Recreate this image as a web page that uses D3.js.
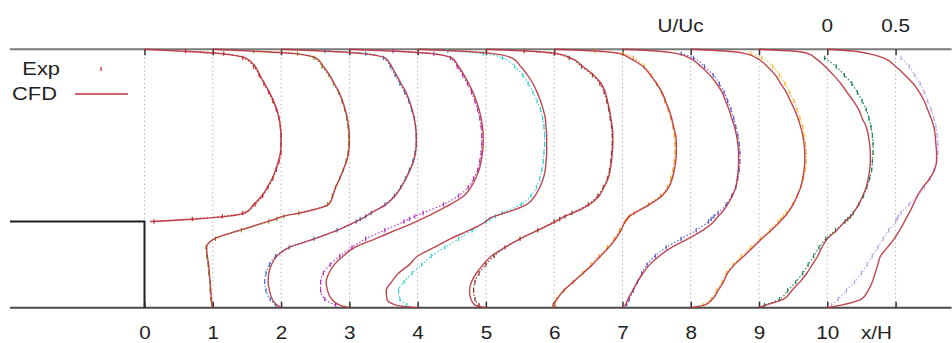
<!DOCTYPE html>
<html>
<head>
<meta charset="utf-8">
<script src="https://cdn.jsdelivr.net/npm/d3@7"></script>
<style>
  html, body { margin: 0; padding: 0; background: #fff; }
  svg { display: block; font-family: "Liberation Sans", Arial, sans-serif; }
</style>
</head>
<body>
<svg id="chart" width="952" height="343"></svg>
<script>
// wall-normal levels y/H, shared by every profile
const yLevels = [0, 0.03, 0.1, 0.2, 0.3, 0.4, 0.5, 0.6, 0.7, 0.8, 0.9,
  1.0, 1.03, 1.06, 1.1, 1.2, 1.3, 1.4, 1.5, 1.6, 1.7, 1.8, 1.9, 2.0,
  2.1, 2.2, 2.3, 2.4, 2.5, 2.6, 2.7, 2.8, 2.9, 2.95, 2.98, 3.0];

// measuring stations x/H
const stations = [0, 1, 2, 3, 4, 5, 6, 7, 8, 9, 10];

// U/Uc from the simulation, one row per station
const cfd = [
  [null, null, null, null, null, null, null, null, null, null, null, 0.04, 0.38, 0.6, 0.74, 0.8, 0.86, 0.9, 0.935, 0.96, 0.98, 0.995, 1.0, 1.0, 0.995, 0.985, 0.97, 0.945, 0.915, 0.88, 0.845, 0.81, 0.74, 0.55, 0.25, 0],
  [0, -0.005, -0.01, -0.015, -0.02, -0.025, -0.03, -0.04, -0.045, 0.01, 0.2, 0.4, 0.46, 0.51, 0.64, 0.85, 0.88, 0.9, 0.93, 0.955, 0.98, 0.995, 1.0, 1.0, 0.995, 0.985, 0.97, 0.95, 0.925, 0.89, 0.855, 0.81, 0.755, 0.6, 0.27, 0],
  [0, -0.03, -0.065, -0.085, -0.095, -0.09, -0.07, -0.03, 0.06, 0.245, 0.415, 0.55, 0.59, 0.62, 0.66, 0.77, 0.835, 0.88, 0.915, 0.945, 0.97, 0.985, 0.99, 0.99, 0.985, 0.975, 0.96, 0.94, 0.915, 0.88, 0.845, 0.81, 0.76, 0.6, 0.3, 0],
  [0, -0.07, -0.13, -0.16, -0.17, -0.15, -0.11, -0.045, 0.04, 0.19, 0.34, 0.49, 0.53, 0.57, 0.62, 0.74, 0.84, 0.89, 0.925, 0.95, 0.965, 0.975, 0.98, 0.98, 0.975, 0.965, 0.95, 0.93, 0.905, 0.875, 0.84, 0.8, 0.75, 0.6, 0.3, 0],
  [0, -0.16, -0.225, -0.23, -0.19, -0.14, -0.06, 0.0, 0.12, 0.24, 0.38, 0.5, 0.52, 0.56, 0.64, 0.8, 0.86, 0.895, 0.92, 0.935, 0.94, 0.945, 0.945, 0.945, 0.94, 0.935, 0.92, 0.9, 0.875, 0.845, 0.805, 0.755, 0.69, 0.55, 0.3, 0],
  [0, -0.08, -0.11, -0.12, -0.105, -0.07, -0.02, 0.04, 0.14, 0.25, 0.38, 0.51, 0.545, 0.575, 0.64, 0.76, 0.83, 0.865, 0.895, 0.91, 0.92, 0.925, 0.93, 0.93, 0.925, 0.915, 0.905, 0.89, 0.875, 0.845, 0.79, 0.71, 0.62, 0.52, 0.3, 0],
  [0, -0.01, 0.02, 0.07, 0.14, 0.21, 0.28, 0.34, 0.4, 0.45, 0.49, 0.52, 0.535, 0.55, 0.59, 0.7, 0.79, 0.84, 0.865, 0.88, 0.89, 0.895, 0.895, 0.89, 0.875, 0.86, 0.84, 0.815, 0.79, 0.75, 0.705, 0.65, 0.55, 0.48, 0.3, 0],
  [0, 0.02, 0.04, 0.075, 0.11, 0.15, 0.2, 0.27, 0.36, 0.48, 0.59, 0.67, 0.685, 0.7, 0.725, 0.77, 0.805, 0.83, 0.84, 0.848, 0.85, 0.85, 0.845, 0.835, 0.82, 0.8, 0.78, 0.755, 0.73, 0.69, 0.64, 0.575, 0.49, 0.4, 0.25, 0],
  [0, 0.1, 0.16, 0.2, 0.24, 0.27, 0.32, 0.39, 0.455, 0.52, 0.59, 0.655, 0.67, 0.69, 0.71, 0.75, 0.78, 0.805, 0.82, 0.83, 0.835, 0.835, 0.83, 0.82, 0.805, 0.785, 0.76, 0.73, 0.7, 0.66, 0.62, 0.56, 0.48, 0.4, 0.25, 0],
  [0, 0.05, 0.18, 0.24, 0.3, 0.35, 0.39, 0.43, 0.46, 0.5, 0.57, 0.63, 0.65, 0.67, 0.69, 0.73, 0.76, 0.785, 0.8, 0.81, 0.815, 0.815, 0.81, 0.8, 0.785, 0.755, 0.73, 0.69, 0.645, 0.6, 0.545, 0.485, 0.41, 0.36, 0.25, 0],
  [0, 0.1, 0.25, 0.3, 0.33, 0.35, 0.37, 0.39, 0.44, 0.49, 0.53, 0.565, 0.575, 0.585, 0.6, 0.63, 0.66, 0.7, 0.75, 0.785, 0.8, 0.8, 0.795, 0.79, 0.78, 0.76, 0.735, 0.71, 0.675, 0.63, 0.57, 0.5, 0.41, 0.3, 0.18, 0]
];

// U/Uc measured, one row per station
const exp = [
  [null, null, null, null, null, null, null, null, null, null, null, 0.07, 0.35, 0.57, 0.72, 0.81, 0.865, 0.905, 0.94, 0.965, 0.985, 1.0, 1.0, 1.0, 0.995, 0.985, 0.965, 0.94, 0.91, 0.875, 0.84, 0.8, 0.72, 0.58, 0.3, null],
  [null, -0.005, -0.015, -0.02, -0.02, -0.03, -0.035, -0.045, -0.05, 0.02, 0.21, 0.41, 0.47, 0.52, 0.63, 0.84, 0.875, 0.9, 0.93, 0.955, 0.975, 0.99, 0.995, 0.995, 0.99, 0.98, 0.965, 0.945, 0.92, 0.885, 0.85, 0.8, 0.74, 0.62, 0.3, null],
  [null, -0.04, -0.08, -0.11, -0.12, -0.11, -0.085, -0.04, 0.06, 0.24, 0.41, 0.55, 0.58, 0.62, 0.66, 0.76, 0.83, 0.875, 0.91, 0.94, 0.965, 0.98, 0.99, 0.99, 0.985, 0.975, 0.955, 0.935, 0.905, 0.87, 0.835, 0.8, 0.75, 0.62, 0.32, null],
  [null, -0.1, -0.18, -0.21, -0.21, -0.19, -0.14, -0.07, 0.02, 0.12, 0.26, 0.4, 0.44, 0.48, 0.54, 0.69, 0.8, 0.87, 0.91, 0.94, 0.955, 0.965, 0.97, 0.97, 0.965, 0.955, 0.94, 0.92, 0.895, 0.865, 0.83, 0.79, 0.74, 0.62, 0.32, null],
  [null, -0.08, -0.13, -0.14, -0.1, -0.04, 0.03, 0.1, 0.2, 0.3, 0.4, 0.5, 0.53, 0.57, 0.62, 0.76, 0.83, 0.87, 0.895, 0.91, 0.92, 0.925, 0.93, 0.93, 0.925, 0.915, 0.9, 0.875, 0.845, 0.81, 0.77, 0.71, 0.62, 0.48, 0.22, null],
  [null, -0.05, -0.08, -0.09, -0.08, -0.05, 0.0, 0.06, 0.14, 0.25, 0.38, 0.5, 0.54, 0.58, 0.63, 0.75, 0.82, 0.86, 0.89, 0.905, 0.915, 0.92, 0.925, 0.925, 0.92, 0.91, 0.9, 0.885, 0.865, 0.835, 0.78, 0.7, 0.61, 0.5, 0.28, null],
  [null, 0.0, 0.02, 0.07, 0.14, 0.21, 0.27, 0.33, 0.39, 0.44, 0.48, 0.52, 0.535, 0.55, 0.585, 0.69, 0.78, 0.83, 0.855, 0.87, 0.88, 0.885, 0.885, 0.88, 0.87, 0.855, 0.835, 0.81, 0.785, 0.75, 0.71, 0.66, 0.58, 0.5, 0.3, null],
  [null, 0.03, 0.05, 0.08, 0.11, 0.14, 0.18, 0.24, 0.32, 0.43, 0.54, 0.63, 0.65, 0.67, 0.7, 0.76, 0.8, 0.83, 0.845, 0.855, 0.86, 0.86, 0.855, 0.845, 0.83, 0.815, 0.795, 0.77, 0.745, 0.71, 0.665, 0.6, 0.52, 0.43, null, null],
  [null, 0.09, 0.15, 0.19, 0.23, 0.26, 0.31, 0.37, 0.44, 0.51, 0.58, 0.64, 0.66, 0.68, 0.7, 0.745, 0.78, 0.805, 0.825, 0.84, 0.845, 0.845, 0.84, 0.83, 0.82, 0.8, 0.78, 0.755, 0.725, 0.69, 0.65, 0.6, 0.52, 0.44, null, null],
  [null, 0.04, 0.15, 0.21, 0.27, 0.32, 0.36, 0.4, 0.44, 0.49, 0.56, 0.63, 0.65, 0.67, 0.69, 0.73, 0.765, 0.79, 0.81, 0.825, 0.83, 0.835, 0.835, 0.83, 0.82, 0.805, 0.785, 0.755, 0.72, 0.68, 0.625, 0.565, 0.48, null, null, null],
  [null, 0.03, 0.08, 0.14, 0.2, 0.25, 0.29, 0.33, 0.37, 0.41, 0.45, 0.5, 0.51, 0.52, 0.54, 0.6, 0.66, 0.71, 0.75, 0.78, 0.8, 0.81, 0.81, 0.805, 0.795, 0.78, 0.76, 0.735, 0.71, 0.68, 0.64, 0.6, 0.54, null, null, null]
];

const expColors = ['#d41c24', '#7c9a22', '#3d74d4', '#b12ac4', '#2fd2d6', '#8e3a2c',
  '#f29a16', '#5c58cf', '#f5b830', '#17824c', '#b7a2ec'];
const cfdColor = '#b8323c';

const gridTicks = [0, 1, 2, 3, 4, 5, 6, 7, 8, 9, 10, 11];
const uTicks = [0, 0.5];        // U/Uc tick labels, drawn at the last station
const uSpan = 2;                // one U/Uc unit spans two x/H units
const stepHeight = 1;
const channelTop = 3;
const frameX = [-1.97, 11.82];  // extent of the wall lines in x/H

const width = 952, height = 343;
const svg = d3.select('#chart');
const fontSize = 18;
const stretch = 1.15;

const x = d3.scaleLinear().domain([0, 10]).range([144.5, 827.3]);
const y = d3.scaleLinear().domain([0, channelTop]).range([307.7, 49.3]);

// dotted verticals at every station
svg.append('g')
  .selectAll('line')
  .data(gridTicks)
  .join('line')
  .attr('x1', d => x(d)).attr('x2', d => x(d))
  .attr('y1', y(channelTop)).attr('y2', y(0))
  .attr('stroke', '#a8a8a8')
  .attr('stroke-width', 1)
  .attr('stroke-dasharray', '1.2,3');

// walls
svg.append('line')
  .attr('x1', x(frameX[0])).attr('x2', x(frameX[1]))
  .attr('y1', y(channelTop)).attr('y2', y(channelTop))
  .attr('stroke', '#7a7a7a').attr('stroke-width', 2);
svg.append('line')
  .attr('x1', x(frameX[0])).attr('x2', x(frameX[1]))
  .attr('y1', y(0)).attr('y2', y(0))
  .attr('stroke', '#4a4a4a').attr('stroke-width', 2);
svg.append('path')
  .attr('d', `M${x(frameX[0])},${y(stepHeight)}H${x(0)}V${y(0)}`)
  .attr('fill', 'none')
  .attr('stroke', '#1e1e1e')
  .attr('stroke-width', 2);

// axes
const bottomAxis = svg.append('g')
  .attr('transform', `translate(0,${y(0)})`)
  .call(d3.axisBottom(x)
    .tickValues(gridTicks)
    .tickFormat(d => d <= 10 ? d : '')
    .tickSizeInner(-6)
    .tickSizeOuter(0)
    .tickPadding(19));
bottomAxis.select('.domain').remove();
bottomAxis.selectAll('line').attr('stroke', '#333').attr('stroke-width', 1.5);
bottomAxis.selectAll('text')
  .attr('font-size', fontSize)
  .attr('font-family', '"Liberation Sans", Arial, sans-serif')
  .attr('fill', '#222')
  .attr('transform', `scale(${stretch},1)`);

const topAxis = svg.append('g')
  .attr('transform', `translate(0,${y(channelTop)})`)
  .call(d3.axisTop(x)
    .tickValues(gridTicks)
    .tickFormat('')
    .tickSizeInner(-6)
    .tickSizeOuter(0));
topAxis.select('.domain').remove();
topAxis.selectAll('line').attr('stroke', '#333').attr('stroke-width', 1.5);

function label(text, px, py, size) {
  svg.append('text')
    .attr('transform', `translate(${px},${py}) scale(${stretch},1)`)
    .attr('text-anchor', 'middle')
    .attr('font-size', size || fontSize)
    .attr('fill', '#222')
    .text(text);
}

const lastStation = stations[stations.length - 1];
uTicks.forEach(u => label(String(u), x(lastStation + uSpan * u), 31.5));
label('U/Uc', x(7.85), 31.5);
label('x/H', x(10.72), 339);

// profiles
const rows = (vals, s) => yLevels.map((lev, i) => ({ s: s, y: lev, u: vals[i] }));

const line = d3.line()
  .defined(d => d.u != null)
  .x(d => x(d.s + uSpan * d.u))
  .y(d => y(d.y))
  .curve(d3.curveMonotoneY);

const expG = svg.append('g');
stations.forEach((s, i) => {
  const pts = rows(exp[i], s);
  expG.append('path')
    .attr('d', line(pts))
    .attr('fill', 'none')
    .attr('stroke', expColors[i])
    .attr('stroke-width', 1.1)
    .attr('stroke-dasharray', '1.5,2');
  expG.append('g')
    .selectAll('line')
    .data(pts.filter(d => d.u != null))
    .join('line')
    .attr('x1', d => x(d.s + uSpan * d.u)).attr('x2', d => x(d.s + uSpan * d.u))
    .attr('y1', d => y(d.y) - 2.2).attr('y2', d => y(d.y) + 2.2)
    .attr('stroke', expColors[i])
    .attr('stroke-width', 1.2);
});

const cfdG = svg.append('g');
stations.forEach((s, i) => {
  cfdG.append('path')
    .attr('d', line(rows(cfd[i], s)))
    .attr('fill', 'none')
    .attr('stroke', cfdColor)
    .attr('stroke-width', 1.4)
    .attr('stroke-opacity', 0.9);
});

// legend
const legend = svg.append('g');
legend.append('text')
  .attr('transform', `translate(60,75) scale(${stretch},1)`)
  .attr('text-anchor', 'end')
  .attr('font-size', 19).attr('fill', '#222')
  .text('Exp');
legend.append('line')
  .attr('x1', 101).attr('x2', 101).attr('y1', 67).attr('y2', 71)
  .attr('stroke', expColors[0]).attr('stroke-width', 1.2);
legend.append('text')
  .attr('transform', `translate(57,100) scale(${stretch},1)`)
  .attr('text-anchor', 'end')
  .attr('font-size', 19).attr('fill', '#222')
  .text('CFD');
legend.append('line')
  .attr('x1', 75).attr('x2', 128).attr('y1', 94).attr('y2', 94)
  .attr('stroke', cfdColor).attr('stroke-width', 1.4);
</script>
</body>
</html>
